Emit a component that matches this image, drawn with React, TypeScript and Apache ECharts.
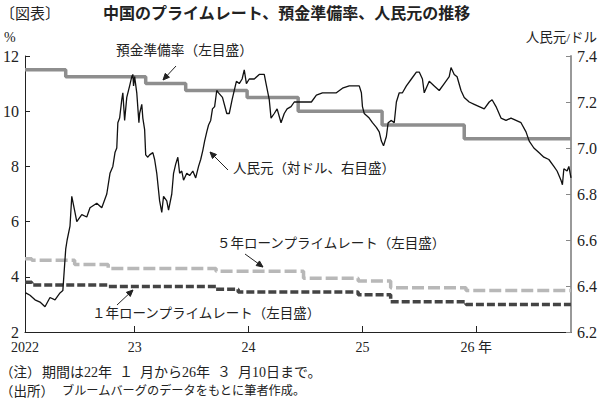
import React, { useEffect, useRef } from 'react';
import * as echarts from 'echarts';

// 預金準備率（大手行, %）
const rrrDates = ['2022-01-01', '2022-04-25', '2022-12-05', '2023-03-27', '2023-09-15', '2024-02-05', '2024-09-27', '2025-05-15', '2026-03-10'];
const rrrValues = [11.5, 11.25, 11.0, 10.75, 10.5, 10.0, 9.5, 9.0, 9.0];

// 1年ローンプライムレート（%）
const lpr1Dates = ['2022-01-01', '2022-01-20', '2022-08-22', '2023-06-20', '2023-08-21', '2024-07-22', '2024-10-21', '2025-05-20', '2026-03-10'];
const lpr1Values = [3.8, 3.7, 3.65, 3.55, 3.45, 3.35, 3.1, 3.0, 3.0];

// 5年ローンプライムレート（%）
const lpr5Dates = ['2022-01-01', '2022-01-20', '2022-05-20', '2022-08-22', '2023-06-20', '2024-02-20', '2024-07-22', '2024-10-21', '2025-05-20', '2026-03-10'];
const lpr5Values = [4.65, 4.6, 4.45, 4.3, 4.2, 3.95, 3.85, 3.6, 3.5, 3.5];

// 人民元（対ドル）
const cnyDates = [
  '2022-01-03', '2022-01-15', '2022-01-29', '2022-02-12', '2022-02-26', '2022-03-12', '2022-03-26', '2022-04-09', '2022-04-17', '2022-04-21',
  '2022-04-25', '2022-04-29', '2022-05-07', '2022-05-12', '2022-05-21', '2022-05-26', '2022-06-09', '2022-06-23', '2022-07-02', '2022-07-21',
  '2022-08-04', '2022-08-18', '2022-08-27', '2022-09-04', '2022-09-10', '2022-09-15', '2022-09-18', '2022-09-23', '2022-09-29', '2022-10-02',
  '2022-10-07', '2022-10-13', '2022-10-21', '2022-10-27', '2022-10-30', '2022-11-01', '2022-11-04', '2022-11-10', '2022-11-16', '2022-11-18',
  '2022-11-24', '2022-11-27', '2022-12-02', '2022-12-05', '2022-12-11', '2022-12-16', '2022-12-25', '2022-12-30',
  '2023-01-05', '2023-01-13', '2023-01-19', '2023-01-24', '2023-02-02', '2023-02-07', '2023-02-16', '2023-02-21', '2023-02-27', '2023-03-05',
  '2023-03-10', '2023-03-16', '2023-03-21', '2023-03-30', '2023-04-07', '2023-04-16', '2023-04-24', '2023-05-02', '2023-05-08', '2023-05-14',
  '2023-05-19', '2023-05-25', '2023-05-30', '2023-06-05', '2023-06-10', '2023-06-16', '2023-06-22', '2023-06-27', '2023-07-08', '2023-07-20',
  '2023-07-27', '2023-08-04', '2023-08-16', '2023-08-24', '2023-09-01', '2023-09-07', '2023-09-13', '2023-09-21', '2023-10-05', '2023-10-19',
  '2023-11-02', '2023-11-07', '2023-11-16', '2023-11-21', '2023-11-30', '2023-12-08', '2023-12-19', '2023-12-28',
  '2024-01-05', '2024-01-16', '2024-01-25', '2024-02-08', '2024-02-27', '2024-03-13', '2024-03-27', '2024-04-13', '2024-05-03', '2024-05-22',
  '2024-06-08', '2024-06-27', '2024-07-17', '2024-07-25', '2024-07-31', '2024-08-03', '2024-08-08', '2024-08-22', '2024-08-31', '2024-09-11',
  '2024-09-19', '2024-09-25', '2024-10-01', '2024-10-09', '2024-10-14', '2024-10-23', '2024-10-31', '2024-11-06', '2024-11-14', '2024-11-23',
  '2024-12-04', '2024-12-18',
  '2025-01-01', '2025-01-09', '2025-01-18', '2025-01-23', '2025-02-06', '2025-02-20', '2025-03-06', '2025-03-20', '2025-04-03', '2025-04-08',
  '2025-04-17', '2025-04-25', '2025-05-06', '2025-05-15', '2025-05-29', '2025-06-12', '2025-06-26', '2025-07-10', '2025-07-24', '2025-08-01',
  '2025-08-12', '2025-08-26', '2025-09-09', '2025-09-23', '2025-10-07', '2025-10-21', '2025-11-04', '2025-11-13', '2025-11-26', '2025-12-10',
  '2025-12-24',
  '2026-01-07', '2026-01-21', '2026-01-30', '2026-02-10', '2026-02-14', '2026-02-18', '2026-02-27', '2026-03-04', '2026-03-10'
];
const cnyValues = [
  6.37, 6.36, 6.34, 6.33, 6.31, 6.35, 6.34, 6.37, 6.38, 6.47,
  6.56, 6.60, 6.66, 6.79, 6.72, 6.68, 6.71, 6.70, 6.74, 6.76,
  6.74, 6.80, 6.89, 6.92, 6.98, 7.00, 7.11, 7.13, 7.21, 7.24,
  7.12, 7.22, 7.27, 7.31, 7.32, 7.27, 7.31, 7.24, 7.11, 7.15,
  7.19, 7.13, 7.08, 6.97, 6.96, 6.97, 6.98, 6.95,
  6.89, 6.77, 6.72, 6.79, 6.77, 6.73, 6.80, 6.89, 6.93, 6.96,
  6.89, 6.90, 6.86, 6.89, 6.88, 6.90, 6.87, 6.92, 6.95, 6.99,
  7.03, 7.07, 7.10, 7.12, 7.17, 7.18, 7.25, 7.24, 7.22, 7.15,
  7.15, 7.21, 7.29, 7.28, 7.30, 7.34, 7.28, 7.30, 7.30, 7.32,
  7.32, 7.28, 7.21, 7.13, 7.15, 7.17, 7.11, 7.15,
  7.17, 7.18, 7.20, 7.20, 7.20, 7.20, 7.23, 7.24, 7.24, 7.24,
  7.26, 7.27, 7.27, 7.27, 7.24, 7.18, 7.15, 7.13, 7.11, 7.09,
  7.07, 7.03, 7.01, 7.05, 7.11, 7.12, 7.11, 7.20, 7.24, 7.24,
  7.27, 7.30,
  7.33, 7.33, 7.30, 7.24, 7.29, 7.27, 7.25, 7.28, 7.31, 7.35,
  7.32, 7.31, 7.25, 7.22, 7.20, 7.19, 7.18, 7.17, 7.20, 7.21,
  7.18, 7.13, 7.12, 7.13, 7.12, 7.11, 7.07, 7.03, 7.00, 6.98,
  6.96,
  6.95, 6.92, 6.90, 6.86, 6.84, 6.91, 6.90, 6.92, 6.87
];

// x軸
const xStart = '2022-01-01';
const xEnd = '2026-03-10';
const xTickDates = ['2022-11-04', '2023-09-19', '2024-08-03', '2025-06-18'];
const xLabelDates = ['2022-01-01', '2022-11-04', '2023-09-19', '2024-08-03', '2025-06-18'];
const xLabelTexts = ['2022', '23', '24', '25', '26 年'];

const SERIF = "'Liberation Serif', 'Noto Sans CJK JP', serif";
const JP = "'Noto Sans CJK JP', sans-serif";

const t = (s: string) => Date.parse(s);
const zip = (ds: string[], vs: number[]) => ds.map((s, i) => [t(s), vs[i]]);

function arrow(x1: number, y1: number, x2: number, y2: number) {
  const ang = Math.atan2(y2 - y1, x2 - x1);
  const L = 7;
  const a = 0.42;
  const p1 = [x2 - L * Math.cos(ang - a), y2 - L * Math.sin(ang - a)];
  const p2 = [x2 - L * Math.cos(ang + a), y2 - L * Math.sin(ang + a)];
  return [
    { type: 'line', shape: { x1, y1, x2, y2 }, style: { stroke: '#222', lineWidth: 1 } },
    { type: 'polygon', shape: { points: [p1, [x2, y2], p2] }, style: { stroke: '#222', fill: '#222', lineWidth: 1 } },
  ];
}

function txt(x: number, y: number, text: string, size = 13.5, font = SERIF, weight: any = 'normal', align = 'left') {
  return {
    type: 'text',
    x,
    y,
    style: { text, fill: '#222', font: `${weight} ${size}px ${font}`, textAlign: align, textVerticalAlign: 'middle' },
  };
}

export default function App() {
  const ref = useRef<HTMLDivElement>(null);
  useEffect(() => {
    const chart = echarts.init(ref.current!, null, { renderer: 'svg' });
    const labelVals = xLabelDates.map(t);
    const option: any = {
      animation: false,
      backgroundColor: '#fff',
      grid: { left: 25, right: 28, top: 56, bottom: 67, containLabel: false },
      xAxis: {
        type: 'value',
        min: t(xStart),
        max: t(xEnd),
        splitLine: { show: false },
        axisLine: { show: true, lineStyle: { color: '#222', width: 1 } },
        axisTick: { show: true, inside: true, length: 6, customValues: xTickDates.map(t), lineStyle: { color: '#222' } },
        axisLabel: {
          customValues: labelVals,
          margin: 8,
          color: '#222',
          fontSize: 14,
          fontFamily: SERIF,
          formatter: (v: number) => {
            const i = labelVals.indexOf(v);
            return i >= 0 ? xLabelTexts[i] : '';
          },
        },
      },
      yAxis: [
        {
          type: 'value',
          min: 2,
          max: 12,
          interval: 2,
          splitLine: { show: false },
          axisLine: { show: true, lineStyle: { color: '#222', width: 1 } },
          axisTick: { show: true, inside: true, length: 5, lineStyle: { color: '#222' } },
          axisLabel: { margin: 6, color: '#222', fontSize: 16, fontFamily: SERIF },
        },
        {
          type: 'value',
          position: 'right',
          min: 6.2,
          max: 7.4,
          interval: 0.2,
          splitLine: { show: false },
          axisLine: { show: true, lineStyle: { color: '#999', width: 2 } },
          axisTick: { show: true, inside: true, length: 5, lineStyle: { color: '#888' } },
          axisLabel: { margin: 6, color: '#222', fontSize: 16, fontFamily: SERIF, formatter: (v: number) => v.toFixed(1) },
        },
      ],
      series: [
        {
          name: '預金準備率', type: 'line', step: 'end', showSymbol: false, yAxisIndex: 0,
          data: zip(rrrDates, rrrValues),
          lineStyle: { color: '#8e8e8e', width: 3.5 }, z: 2,
        },
        {
          name: '5年LPR', type: 'line', step: 'end', showSymbol: false, yAxisIndex: 0,
          data: zip(lpr5Dates, lpr5Values),
          lineStyle: { color: '#b8b8b8', width: 3.5, type: [12, 4] }, z: 2,
        },
        {
          name: '1年LPR', type: 'line', step: 'end', showSymbol: false, yAxisIndex: 0,
          data: zip(lpr1Dates, lpr1Values),
          lineStyle: { color: '#444', width: 3.5, type: [8, 3] }, z: 2,
        },
        {
          name: '人民元', type: 'line', showSymbol: false, yAxisIndex: 1,
          data: zip(cnyDates, cnyValues),
          lineStyle: { color: '#111', width: 1.3 }, z: 3,
        },
      ],
      graphic: [
        txt(0, 12, '〔図表〕', 15, JP),
        txt(103, 12, '中国のプライムレート、預金準備率、人民元の推移', 16, JP, 'bold'),
        txt(4, 37, '%', 14, SERIF),
        txt(597, 37, '人民元/ドル', 13.5, SERIF, 'normal', 'right'),
        txt(116, 50, '預金準備率（左目盛）', 13.7),
        ...arrow(176, 66, 163, 80),
        txt(233, 168, '人民元（対ドル、右目盛）', 13.5),
        ...arrow(228, 170, 210, 152),
        txt(217, 243, '５年ローンプライムレート（左目盛）', 13.5),
        ...arrow(245, 254, 263, 267),
        txt(92, 313, '１年ローンプライムレート（左目盛）', 13.5),
        ...arrow(117, 305, 133, 290),
        txt(0, 372, '（注）', 13.5),
        txt(42, 372, '期間は22年\u2002１\u2002月から26年\u2002３\u2002月10日まで。', 14),
        txt(0, 391, '（出所）', 13.5),
        txt(62, 391, 'ブルームバーグのデータをもとに筆者作成。', 12.2),
      ],
    };
    chart.setOption(option);
    return () => chart.dispose();
  }, []);
  return <div ref={ref} style={{ position: 'absolute', left: 0, top: 0, width: 600, height: 399 }} />;
}
